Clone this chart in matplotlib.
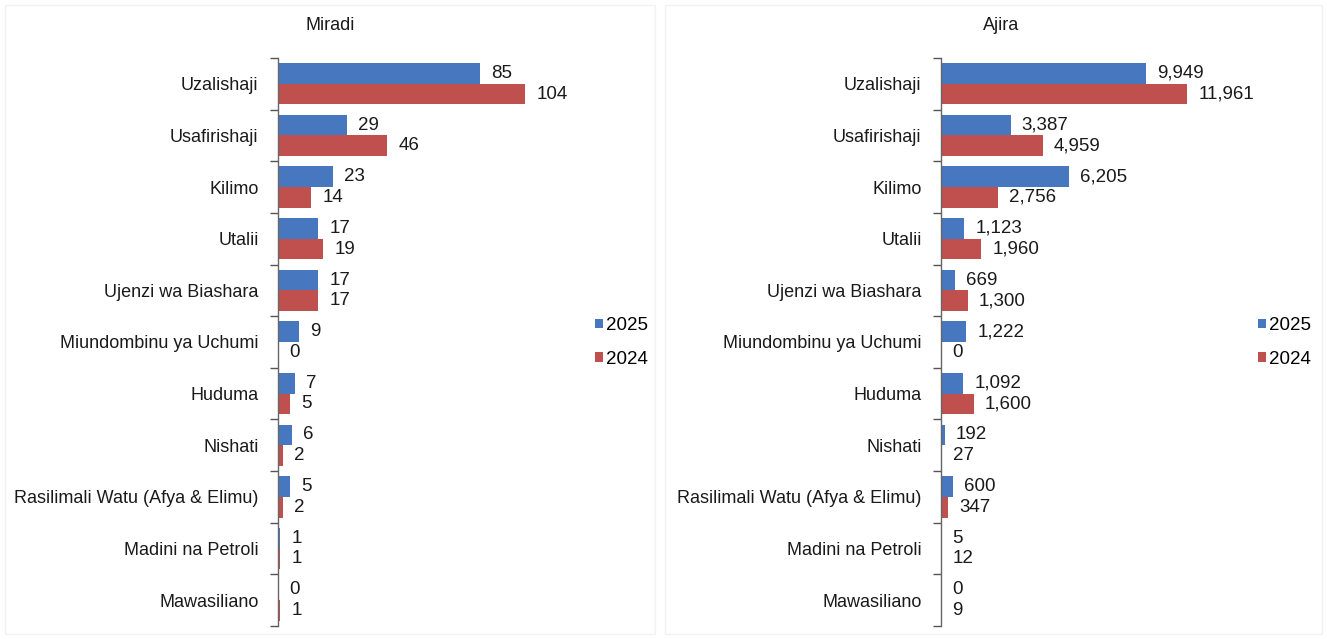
import matplotlib
matplotlib.use("Agg")
import matplotlib.pyplot as plt
from matplotlib.patches import Rectangle

plt.rcParams['font.family'] = ['Liberation Sans', 'DejaVu Sans']

categories = ["Uzalishaji", "Usafirishaji", "Kilimo", "Utalii", "Ujenzi wa Biashara",
              "Miundombinu ya Uchumi", "Huduma", "Nishati",
              "Rasilimali Watu (Afya & Elimu)", "Madini na Petroli", "Mawasiliano"]
miradi_2025 = [85, 29, 23, 17, 17, 9, 7, 6, 5, 1, 0]
miradi_2024 = [104, 46, 14, 19, 17, 0, 5, 2, 2, 1, 1]
ajira_2025 = [9949, 3387, 6205, 1123, 669, 1222, 1092, 192, 600, 5, 0]
ajira_2024 = [11961, 4959, 2756, 1960, 1300, 0, 1600, 27, 347, 12, 9]
series_labels = ["2025", "2024"]
titles = ["Miradi", "Ajira"]

C25 = "#4677BF"
C24 = "#C0504D"

fig = plt.figure(figsize=(13.27, 6.39), dpi=100)
W, H = 1327, 639

# faint panel borders
for (x0, x1) in [(5, 655), (665, 1322)]:
    fig.patches.append(Rectangle((x0 / W, 5 / H), (x1 - x0) / W, (634 - 5) / H,
                                 transform=fig.transFigure, fill=False,
                                 edgecolor="#f2f2f2", linewidth=1.0))

panels = [
    (miradi_2025, miradi_2024, 278, 575, 125, titles[0], 330, 578),
    (ajira_2025, ajira_2024, 941, 1229, 14000, titles[1], 1001, 1241),
]

for v25, v24, xl, xr, xmax, title, tx, lx in panels:
    ax = fig.add_axes([xl / W, 1 - 626 / H, (xr - xl) / W, (626 - 58) / H])
    n = len(categories)
    ys = list(range(n))
    ax.barh([y - 0.2 for y in ys], v25, height=0.4, color=C25, label=series_labels[0])
    ax.barh([y + 0.2 for y in ys], v24, height=0.4, color=C24, label=series_labels[1])
    for y, a, b in zip(ys, v25, v24):
        ax.annotate(f"{a:,}", (a, y - 0.2), xytext=(8, 0), textcoords="offset points",
                    va="center", ha="left", fontsize=13.5, color="#1a1a1a")
        ax.annotate(f"{b:,}", (b, y + 0.2), xytext=(8, 0), textcoords="offset points",
                    va="center", ha="left", fontsize=13.5, color="#1a1a1a")
    ax.set_xlim(0, xmax)
    ax.set_ylim(n - 0.5, -0.5)
    ax.set_yticks(ys)
    ax.set_yticklabels(categories, fontsize=13, color="#1a1a1a")
    ax.tick_params(axis="y", which="major", length=0, pad=14)
    ax.set_yticks([y - 0.5 for y in range(n + 1)], minor=True)
    ax.tick_params(axis="y", which="minor", length=6, width=1, color="#555555", direction="out")
    ax.set_xticks([])
    for s in ["top", "right", "bottom"]:
        ax.spines[s].set_visible(False)
    ax.spines["left"].set_color("#666666")
    ax.spines["left"].set_linewidth(1.0)
    ax.patch.set_alpha(0)
    fig.text(tx / W, 1 - 25 / H, title, ha="center", va="center", fontsize=13, color="#1a1a1a")
    ax.legend(loc="center left", bbox_to_anchor=(lx / W, 1 - 342.5 / H),
              bbox_transform=fig.transFigure, frameon=False,
              fontsize=13.5, handlelength=0.42, handleheight=0.42,
              handletextpad=0.15, labelspacing=0.9)

fig.savefig("out.png", dpi=100, facecolor="white")
